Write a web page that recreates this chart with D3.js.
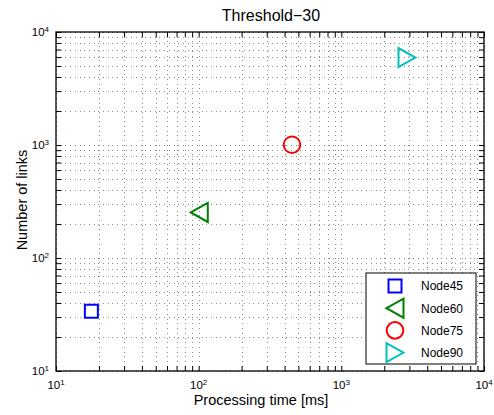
<!DOCTYPE html>
<html>
<head>
    <meta charset="UTF-8">
    <script src="https://d3js.org/d3.v7.min.js"></script>
    <style>
        body { margin: 0; background: #fff; }
        text { font-family: "Liberation Sans", Arial, Helvetica, sans-serif; fill: #000; }
        .grid line { stroke: #8a8a8a; stroke-width: 1; stroke-dasharray: 1,3.7; shape-rendering: crispEdges; }
        .axis path { display: none; }
        .axis line { stroke: #000; stroke-width: 1; }
    </style>
</head>
<body>
    <svg id="chart" width="494" height="415"></svg>

    <script>
        // data
        let nodes = ["Node45", "Node60", "Node75", "Node90"]
        let times = [17.7, 101, 451, 2885]     // processing time [ms]
        let links = [33.8, 253, 1005, 5940]    // number of links
        let colors = ["#0000ff", "#008000", "#ff0000", "#00bfbf"]
        let shapes = ["square", "left", "circle", "right"]
        let majorTicks = [10, 100, 1000, 10000]
        let tickExp = ["1", "2", "3", "4"]

        let margin = {top: 32, right: 10, bottom: 44, left: 56},
            width = 484 - margin.left,
            height = 371 - margin.top;

        let svg = d3.select("#chart")
        let chart = svg.append("g")
            .attr("transform", "translate(" + margin.left + "," + margin.top + ")");

        let xScale = d3.scaleLog().domain([10, 10000]).range([0, width])
        let yScale = d3.scaleLog().domain([10, 10000]).range([height, 0])

        // every 1..9 * 10^k tick, major and minor
        let allTicks = []
        for (let k = 1; k < 4; k++) {
            for (let m = 1; m < 10; m++) allTicks.push(m * Math.pow(10, k))
        }
        allTicks.push(10000)

        // dotted grid
        let grid = chart.append("g").attr("class", "grid")
        grid.selectAll(".gx").data(allTicks).join("line")
            .attr("x1", d => Math.round(xScale(d)) + 0.5).attr("x2", d => Math.round(xScale(d)) + 0.5)
            .attr("y1", 0).attr("y2", height)
        grid.selectAll(".gy").data(allTicks).join("line")
            .attr("y1", d => Math.round(yScale(d)) + 0.5).attr("y2", d => Math.round(yScale(d)) + 0.5)
            .attr("x1", 0).attr("x2", width)

        // inward ticks on all four sides
        chart.append("g").attr("class", "axis")
            .attr("transform", "translate(0," + height + ")")
            .call(d3.axisBottom(xScale).tickValues(allTicks).tickSizeInner(-5).tickSizeOuter(0).tickFormat(""))
        chart.append("g").attr("class", "axis")
            .call(d3.axisTop(xScale).tickValues(allTicks).tickSizeInner(-5).tickSizeOuter(0).tickFormat(""))
        chart.append("g").attr("class", "axis")
            .call(d3.axisLeft(yScale).tickValues(allTicks).tickSizeInner(-5).tickSizeOuter(0).tickFormat(""))
        chart.append("g").attr("class", "axis")
            .attr("transform", "translate(" + width + ",0)")
            .call(d3.axisRight(yScale).tickValues(allTicks).tickSizeInner(-5).tickSizeOuter(0).tickFormat(""))

        // frame
        chart.append("rect")
            .attr("x", 0).attr("y", 0).attr("width", width).attr("height", height)
            .attr("fill", "none").attr("stroke", "#000").attr("stroke-width", 1.3)

        // tick labels 10^k
        let xl = chart.append("g").selectAll("text").data(majorTicks).join("text")
            .attr("x", d => xScale(d)).attr("y", height + 18)
            .attr("text-anchor", "middle").attr("font-size", "11.5px")
        xl.append("tspan").text("10")
        xl.append("tspan").attr("dy", -4.5).attr("font-size", "8px").text((d, i) => tickExp[i])

        let yl = chart.append("g").selectAll("text").data(majorTicks).join("text")
            .attr("x", -7).attr("y", d => yScale(d) + 4)
            .attr("text-anchor", "end").attr("font-size", "11.5px")
        yl.append("tspan").text("10")
        yl.append("tspan").attr("dy", -4.5).attr("font-size", "8px").text((d, i) => tickExp[i])

        // markers
        function drawMarker(g, shape, color) {
            if (shape == "square") {
                g.append("rect").attr("x", -6.5).attr("y", -6.5).attr("width", 13).attr("height", 13)
            } else if (shape == "circle") {
                g.append("circle").attr("r", 8.3)
            } else if (shape == "left") {
                g.append("path").attr("d", "M-8.5,0L8.5,-9.5L8.5,9.5Z")
            } else {
                g.append("path").attr("d", "M8.5,0L-8.5,-9.5L-8.5,9.5Z")
            }
            g.selectAll("*").attr("fill", "none").attr("stroke", color).attr("stroke-width", 2)
        }

        chart.append("g").selectAll("g").data(nodes).join("g")
            .attr("transform", (d, i) => "translate(" + xScale(times[i]) + "," + yScale(links[i]) + ")")
            .each(function (d, i) { drawMarker(d3.select(this), shapes[i], colors[i]) })

        // legend
        let legend = svg.append("g").attr("transform", "translate(366,273)")
        legend.append("rect").attr("width", 110).attr("height", 91)
            .attr("fill", "#fff").attr("stroke", "#000").attr("stroke-width", 1)
        let item = legend.selectAll(".item").data(nodes).join("g")
            .attr("transform", (d, i) => "translate(0," + (13 + i * 22.2) + ")")
        item.each(function (d, i) {
            drawMarker(d3.select(this).append("g").attr("transform", "translate(29,0)"), shapes[i], colors[i])
        })
        item.append("text").attr("x", 55).attr("y", 4.3).attr("font-size", "12px").text(d => d)

        // title and labels
        svg.append("text").attr("x", 271).attr("y", 21)
            .attr("text-anchor", "middle").attr("font-size", "16px").text("Threshold\u221230")
        svg.append("text").attr("x", 261).attr("y", 405)
            .attr("text-anchor", "middle").attr("font-size", "14.5px").text("Processing time [ms]")
        svg.append("text").attr("transform", "translate(27,200) rotate(-90)")
            .attr("text-anchor", "middle").attr("font-size", "14.5px").text("Number of links")
    </script>
</body>
</html>
